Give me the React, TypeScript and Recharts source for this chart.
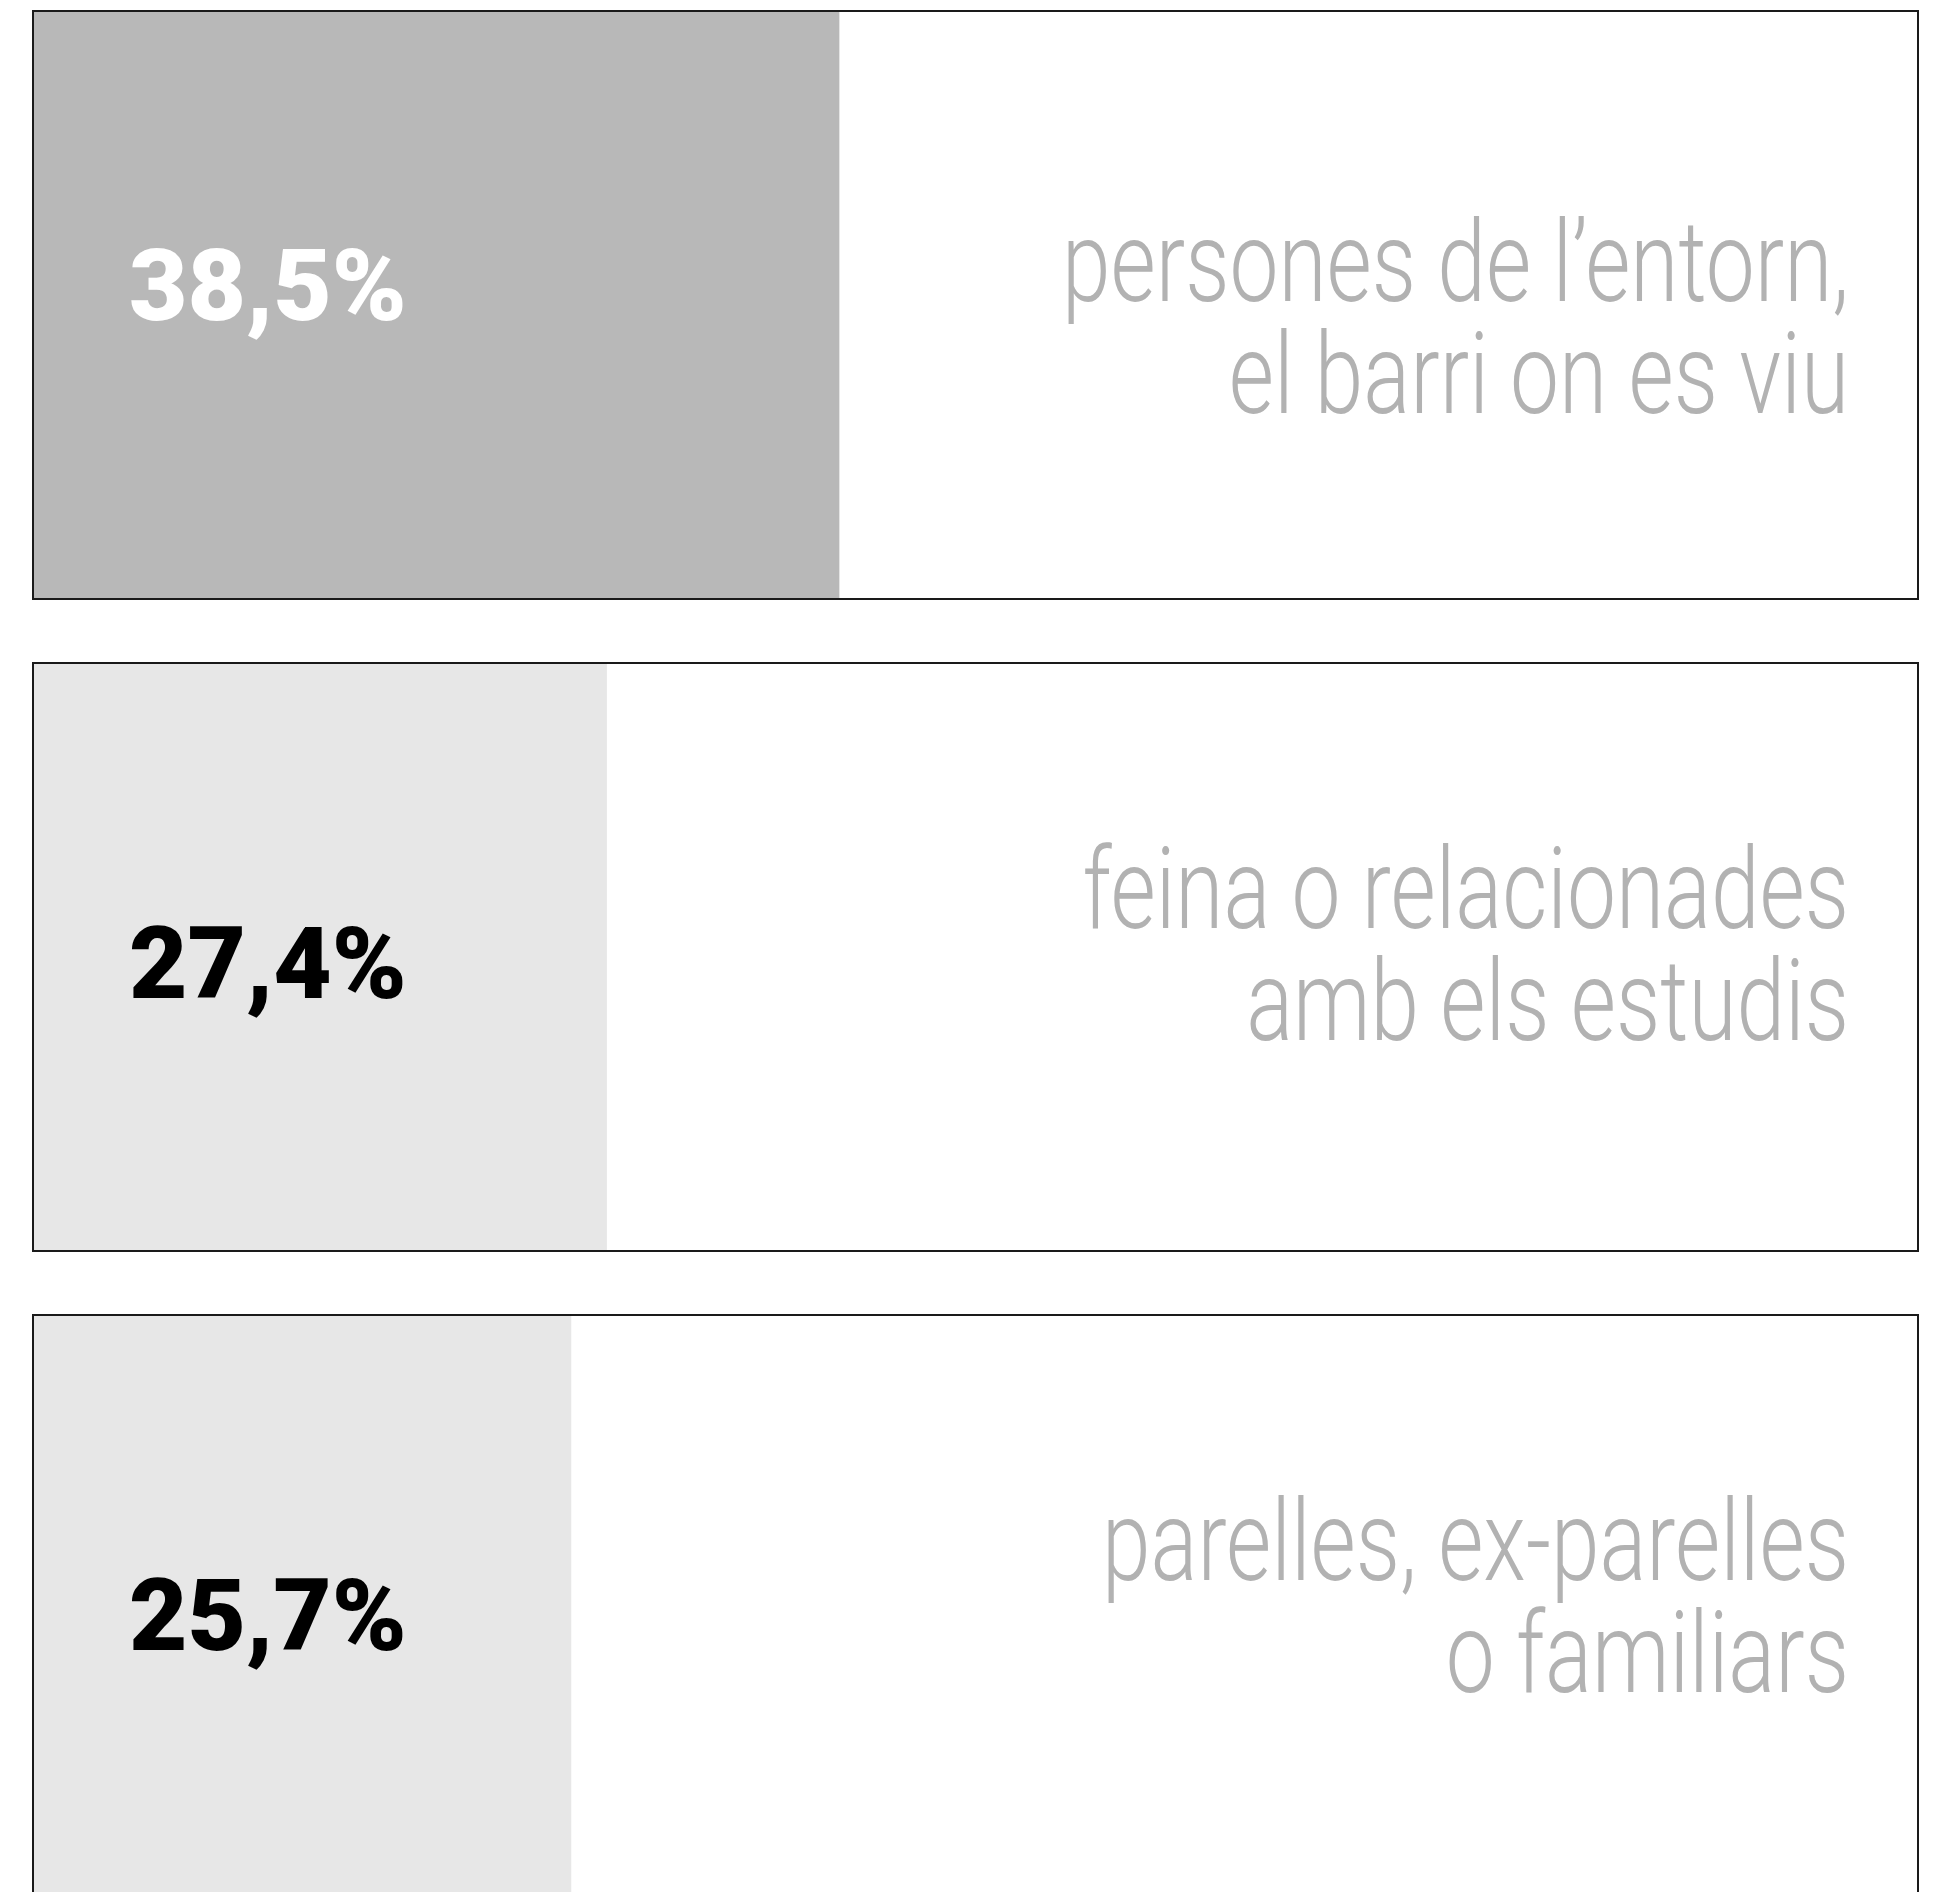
import { BarChart, Bar, XAxis, YAxis, LabelList, Cell } from 'recharts'

// categories (two lines each), values and their printed labels
const categories = [
  'persones de l’entorn,\nel barri on es viu',
  'feina o relacionades\namb els estudis',
  'parelles, ex-parelles\no familiars',
]
const values = [38.5, 27.4, 25.7]
const valueLabels = ['38,5%', '27,4%', '25,7%']
const xDomain = [0, 90]

const data = categories.map((name, i) => ({ name, value: values[i], valueLabel: valueLabels[i] }))

const WIDTH = 1942
const HEIGHT = 1956
const MARGIN = { top: 0, right: 24, bottom: 0, left: 33 }
const PLOT_RIGHT = WIDTH - MARGIN.right

const BAR_FILLS = ['#b8b8b8', '#e7e7e7', '#e7e7e7']
const NUMBER_COLORS = ['#ffffff', '#000000', '#000000']
const TEXT_GRAY = '#b2b2b2'

// bar drawn a pixel inside the panel border
function InsetBar(props: any) {
  const { x, y, width, height, fill } = props
  return <rect x={x + 1} y={y + 1} width={Math.max(width - 1, 0)} height={Math.max(height - 2, 0)} fill={fill} />
}

function NumberLabel(props: any) {
  const box = props.viewBox ?? props
  const { x, y, height } = box
  const i = props.index ?? 0
  const shift = i === 0 ? -26 : 0
  return (
    <text
      x={x + 96}
      y={y + height / 2 + 41 + shift}
      fill={NUMBER_COLORS[i]}
      fontFamily="Roboto, 'Noto Sans', sans-serif"
      fontWeight={900}
      fontSize={101}
    >
      {props.value}
    </text>
  )
}

function CategoryLabel(props: any) {
  const box = props.viewBox ?? props
  const { y, height } = box
  const i = props.index ?? 0
  const lines = String(props.value).split('\n')
  const base = y + height / 2 - 29 + (i === 0 ? 25 : 0)
  return (
    <text
      transform={`translate(${PLOT_RIGHT - 69}, ${base}) scale(0.767, 1)`}
      textAnchor="end"
      fill={TEXT_GRAY}
      fontFamily="Roboto, 'Noto Sans', sans-serif"
      fontWeight={300}
      fontSize={114}
    >
      {lines.map((line, k) => (
        <tspan key={k} x={0} dy={k === 0 ? 0 : 112}>
          {line}
        </tspan>
      ))}
    </text>
  )
}

export default function App() {
  return (
    <div style={{ position: 'fixed', left: 0, top: 0, width: WIDTH, height: 1892, overflow: 'hidden', background: '#fff' }}>
      <div style={{ position: 'absolute', left: 0, top: -21 }}>
        <BarChart width={WIDTH} height={HEIGHT} data={data} layout="vertical" margin={MARGIN}>
          <XAxis type="number" domain={xDomain} hide />
          <YAxis type="category" dataKey="name" hide />
          <Bar
            dataKey="value"
            barSize={588}
            isAnimationActive={false}
            background={{ fill: '#ffffff', stroke: '#1a1a1a', strokeWidth: 2 }}
            shape={InsetBar}
          >
            {data.map((_, i) => (
              <Cell key={i} fill={BAR_FILLS[i]} />
            ))}
            <LabelList dataKey="valueLabel" content={NumberLabel} />
            <LabelList dataKey="name" content={CategoryLabel} />
          </Bar>
        </BarChart>
      </div>
    </div>
  )
}
